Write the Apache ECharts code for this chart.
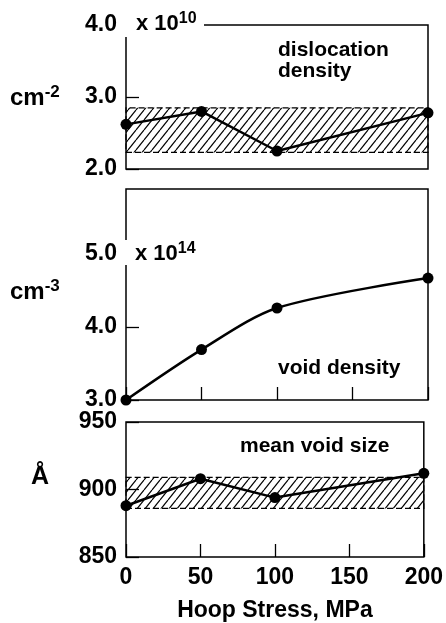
<!DOCTYPE html>
<html>
<head>
<meta charset="utf-8">
<script src="https://cdn.jsdelivr.net/npm/echarts@6/dist/echarts.min.js"></script>
<style>
  html, body { margin: 0; padding: 0; background: #fff; }
  #chart { width: 446px; height: 623px; }
</style>
</head>
<body>
<div id="chart"></div>
<script>
// data
const stress = [0, 50, 100, 200];
const xTicks = [0, 50, 100, 150, 200];
const dislocation = [2.62, 2.8, 2.25, 2.78];      // x 10^10 cm^-2
const dislocationBand = [2.23, 2.85];
const voidDensity = [3.0, 3.69, 4.26, 4.67];      // x 10^14 cm^-3
const voidSize = [888, 908, 894, 912];            // Angstrom
const voidSizeBand = [886, 909];

const FONT = 'Liberation Sans';

// hatch pattern for the scatter bands
function hatch() {
  const c = document.createElement('canvas');
  c.width = 8; c.height = 10;
  const ctx = c.getContext('2d');
  ctx.strokeStyle = '#000';
  ctx.lineWidth = 1.2;
  [-8, 0, 8].forEach(o => {
    ctx.beginPath();
    ctx.moveTo(o, 10);
    ctx.lineTo(o + 8, 0);
    ctx.stroke();
  });
  return { image: c, repeat: 'repeat' };
}
const pattern = hatch();

const pairs = vals => stress.map((s, i) => [s, vals[i]]);

const grids = [
  { left: 126, width: 302, top: 25, height: 144 },
  { left: 126, width: 302, top: 189, height: 211 },
  { left: 126, width: 302, top: 422, height: 135 }
].map(g => Object.assign(g, { show: true, borderColor: '#000', borderWidth: 1.5, backgroundColor: 'transparent' }));

function xAxis(i, ticks, labels) {
  return {
    type: 'value', gridIndex: i, min: xTicks[0], max: xTicks[xTicks.length - 1], interval: 50,
    axisLine: { show: false },
    axisTick: { show: ticks, inside: true, length: 13, lineStyle: { color: '#000', width: 1.3 } },
    axisLabel: { show: labels, margin: 9, color: '#000', fontSize: 23, fontWeight: 'bold', fontFamily: FONT },
    splitLine: { show: false },
    name: labels ? 'Hoop Stress, MPa' : '',
    nameLocation: 'middle', nameGap: 42,
    nameTextStyle: { color: '#000', fontSize: 23, fontWeight: 'bold', fontFamily: FONT }
  };
}

function yAxis(i, min, max, interval, digits) {
  return {
    type: 'value', gridIndex: i, min: min, max: max, interval: interval,
    axisLine: { show: false },
    axisTick: { show: true, inside: true, length: 13, lineStyle: { color: '#000', width: 1.3 } },
    axisLabel: {
      margin: 9, color: '#000', fontSize: 23, fontWeight: 'bold', fontFamily: FONT,
      showMaxLabel: digits === 0 || max % interval === 0,
      formatter: v => v.toFixed(digits)
    },
    splitLine: { show: false }
  };
}

function lineSeries(i, vals, smooth, band) {
  const s = {
    type: 'line', xAxisIndex: i, yAxisIndex: i, data: pairs(vals),
    smooth: smooth, clip: false,
    symbol: 'circle', symbolSize: 11,
    itemStyle: { color: '#000' },
    lineStyle: { color: '#000', width: 2.5 },
    z: 5
  };
  if (band) {
    s.markArea = {
      silent: true,
      itemStyle: { color: pattern, borderColor: '#000', borderWidth: 1.2, borderType: [6, 3] },
      data: [[{ yAxis: band[0] }, { yAxis: band[1] }]]
    };
  }
  return s;
}

const txt = (size) => ({ fontSize: size, fontWeight: 'bold', fontFamily: FONT, fill: '#000' });
const supText = (base, sup, bs, ss, lh) => ({
  text: '{b|' + base + '}{s|' + sup + '}',
  rich: { b: Object.assign(txt(bs), { lineHeight: lh }), s: Object.assign(txt(ss), { verticalAlign: 'top' }) }
});

const chart = echarts.init(document.getElementById('chart'));
chart.setOption({
  animation: false,
  backgroundColor: '#fff',
  grid: grids,
  xAxis: [xAxis(0, false, false), xAxis(1, true, false), xAxis(2, true, true)],
  yAxis: [yAxis(0, 2, 4, 1, 1), yAxis(1, 3, 5.89, 1, 1), yAxis(2, 850, 950, 50, 0)],
  series: [
    lineSeries(0, dislocation, false, dislocationBand),
    lineSeries(1, voidDensity, 0.3, null),
    lineSeries(2, voidSize, false, voidSizeBand)
  ],
  graphic: [
    // breaks in the frame behind the multipliers
    { type: 'rect', z: 99, shape: { x: 120, y: 12, width: 84, height: 25 }, style: { fill: '#fff' } },
    { type: 'rect', z: 99, shape: { x: 120, y: 240, width: 86, height: 25 }, style: { fill: '#fff' } },
    { type: 'text', z: 100, left: 136, top: 11, style: supText('x 10', '10', 22, 16, 26) },
    { type: 'text', z: 100, left: 135, top: 241, style: supText('x 10', '14', 22, 16, 26) },
    { type: 'text', z: 100, left: 10, top: 84, style: supText('cm', '-2', 24, 17, 28) },
    { type: 'text', z: 100, left: 10, top: 278, style: supText('cm', '-3', 24, 17, 28) },
    { type: 'text', z: 100, left: 31, top: 465, style: Object.assign(txt(25), { text: 'Å' }) },
    { type: 'text', z: 100, left: 278, top: 40, style: Object.assign(txt(21), { text: 'dislocation\ndensity', lineHeight: 21 }) },
    { type: 'text', z: 100, left: 278, top: 358, style: Object.assign(txt(21), { text: 'void density' }) },
    { type: 'text', z: 100, left: 240, top: 436, style: Object.assign(txt(21), { text: 'mean void size' }) }
  ]
});
</script>
</body>
</html>
